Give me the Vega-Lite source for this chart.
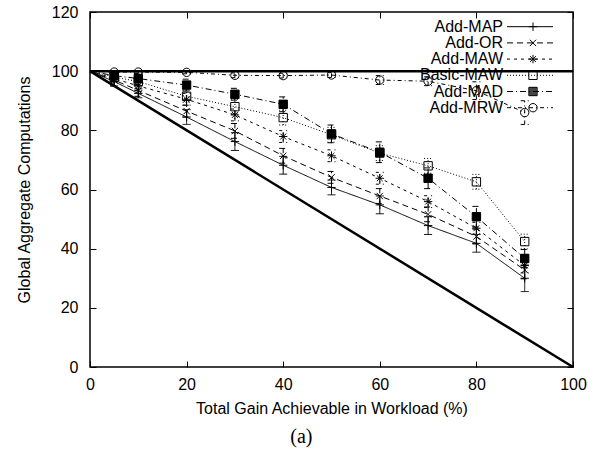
{
  "$schema": "https://vega.github.io/schema/vega-lite/v6.json",
  "autosize": "none",
  "width": 483,
  "height": 355,
  "padding": {"left": 90, "top": 12, "right": 27, "bottom": 86},
  "background": "white",
  "title": {"text": "(a)", "orient": "bottom", "anchor": "middle", "frame": "bounds", "font": "Liberation Serif", "fontSize": 20, "fontWeight": "normal", "color": "black", "offset": 11},
  "config": {
    "font": "Liberation Sans",
    "view": {"stroke": "black", "strokeWidth": 1.5},
    "axis": {"grid": false, "domain": false, "tickColor": "black", "tickWidth": 1, "labelColor": "black", "labelFontSize": 16, "labelFlush": false, "titleColor": "black", "titleFontSize": 16, "titleFontWeight": "normal", "labelFont": "Liberation Sans", "titleFont": "Liberation Sans"},
    "legend": {"labelFont": "Liberation Sans", "labelFontWeight": "normal"}
  },
  "datasets": {
    "series": [
      {"series": "Add-MAP", "x": 0, "y": 100},
      {"series": "Add-MAP", "x": 5, "y": 96.5, "lo": 95, "hi": 98},
      {"series": "Add-MAP", "x": 10, "y": 92.5, "lo": 91, "hi": 94},
      {"series": "Add-MAP", "x": 20, "y": 84.5, "lo": 82, "hi": 87},
      {"series": "Add-MAP", "x": 30, "y": 76.2, "lo": 73.2, "hi": 79.2},
      {"series": "Add-MAP", "x": 40, "y": 68.2, "lo": 65.2, "hi": 71.2},
      {"series": "Add-MAP", "x": 50, "y": 60.7, "lo": 58.2, "hi": 63.2},
      {"series": "Add-MAP", "x": 60, "y": 54.8, "lo": 51.8, "hi": 57.8},
      {"series": "Add-MAP", "x": 70, "y": 47.8, "lo": 44.8, "hi": 50.8},
      {"series": "Add-MAP", "x": 80, "y": 41.8, "lo": 38.8, "hi": 44.8},
      {"series": "Add-MAP", "x": 90, "y": 30, "lo": 25.5, "hi": 34.5},
      {"series": "Add-OR", "x": 0, "y": 100},
      {"series": "Add-OR", "x": 5, "y": 97, "lo": 95, "hi": 99},
      {"series": "Add-OR", "x": 10, "y": 93.5, "lo": 91.5, "hi": 95.5},
      {"series": "Add-OR", "x": 20, "y": 86.5, "lo": 84.5, "hi": 88.5},
      {"series": "Add-OR", "x": 30, "y": 79.8, "lo": 77.3, "hi": 82.3},
      {"series": "Add-OR", "x": 40, "y": 71.4, "lo": 68.9, "hi": 73.9},
      {"series": "Add-OR", "x": 50, "y": 64.1, "lo": 62.1, "hi": 66.1},
      {"series": "Add-OR", "x": 60, "y": 57.8, "lo": 55.3, "hi": 60.3},
      {"series": "Add-OR", "x": 70, "y": 51.6, "lo": 49.1, "hi": 54.1},
      {"series": "Add-OR", "x": 80, "y": 44.1, "lo": 41.6, "hi": 46.6},
      {"series": "Add-OR", "x": 90, "y": 32.8, "lo": 29.8, "hi": 35.8},
      {"series": "Add-MAW", "x": 0, "y": 100},
      {"series": "Add-MAW", "x": 5, "y": 97.5, "lo": 96, "hi": 99},
      {"series": "Add-MAW", "x": 10, "y": 95, "lo": 93.5, "hi": 96.5},
      {"series": "Add-MAW", "x": 20, "y": 90.5, "lo": 88.5, "hi": 92.5},
      {"series": "Add-MAW", "x": 30, "y": 85.2, "lo": 83.2, "hi": 87.2},
      {"series": "Add-MAW", "x": 40, "y": 77.9, "lo": 75.9, "hi": 79.9},
      {"series": "Add-MAW", "x": 50, "y": 71.4, "lo": 69.4, "hi": 73.4},
      {"series": "Add-MAW", "x": 60, "y": 63.8, "lo": 61.8, "hi": 65.8},
      {"series": "Add-MAW", "x": 70, "y": 55.9, "lo": 53.9, "hi": 57.9},
      {"series": "Add-MAW", "x": 80, "y": 46.9, "lo": 44.9, "hi": 48.9},
      {"series": "Add-MAW", "x": 90, "y": 34.3, "lo": 31.8, "hi": 36.8},
      {"series": "Basic-MAW", "x": 0, "y": 100},
      {"series": "Basic-MAW", "x": 5, "y": 98, "lo": 96.5, "hi": 99.5},
      {"series": "Basic-MAW", "x": 10, "y": 96.5, "lo": 95, "hi": 98},
      {"series": "Basic-MAW", "x": 20, "y": 91.5, "lo": 89.5, "hi": 93.5},
      {"series": "Basic-MAW", "x": 30, "y": 88, "lo": 85.5, "hi": 90.5},
      {"series": "Basic-MAW", "x": 40, "y": 84.3, "lo": 81.8, "hi": 86.8},
      {"series": "Basic-MAW", "x": 50, "y": 78.5, "lo": 76, "hi": 81},
      {"series": "Basic-MAW", "x": 60, "y": 72.3, "lo": 69.8, "hi": 74.8},
      {"series": "Basic-MAW", "x": 70, "y": 68, "lo": 65.5, "hi": 70.5},
      {"series": "Basic-MAW", "x": 80, "y": 62.6, "lo": 60.1, "hi": 65.1},
      {"series": "Basic-MAW", "x": 90, "y": 42.4, "lo": 39.9, "hi": 44.9},
      {"series": "Add-MAD", "x": 0, "y": 100},
      {"series": "Add-MAD", "x": 5, "y": 98.5, "lo": 97, "hi": 100},
      {"series": "Add-MAD", "x": 10, "y": 97.5, "lo": 96, "hi": 99},
      {"series": "Add-MAD", "x": 20, "y": 95.3, "lo": 93.3, "hi": 97.3},
      {"series": "Add-MAD", "x": 30, "y": 92.2, "lo": 90.2, "hi": 94.2},
      {"series": "Add-MAD", "x": 40, "y": 88.8, "lo": 86.3, "hi": 91.3},
      {"series": "Add-MAD", "x": 50, "y": 78.8, "lo": 75.8, "hi": 81.8},
      {"series": "Add-MAD", "x": 60, "y": 72.6, "lo": 69.1, "hi": 76.1},
      {"series": "Add-MAD", "x": 70, "y": 63.8, "lo": 60.3, "hi": 67.3},
      {"series": "Add-MAD", "x": 80, "y": 50.8, "lo": 47.3, "hi": 54.3},
      {"series": "Add-MAD", "x": 90, "y": 36.7, "lo": 33.7, "hi": 39.7},
      {"series": "Add-MRW", "x": 0, "y": 100},
      {"series": "Add-MRW", "x": 5, "y": 99.7, "lo": 99.2, "hi": 100.2},
      {"series": "Add-MRW", "x": 10, "y": 99.7, "lo": 99.2, "hi": 100.2},
      {"series": "Add-MRW", "x": 20, "y": 99.6, "lo": 99.1, "hi": 100.1},
      {"series": "Add-MRW", "x": 30, "y": 98.6, "lo": 97.8, "hi": 99.4},
      {"series": "Add-MRW", "x": 40, "y": 98.5, "lo": 97.7, "hi": 99.3},
      {"series": "Add-MRW", "x": 50, "y": 98.7, "lo": 97.9, "hi": 99.5},
      {"series": "Add-MRW", "x": 60, "y": 97, "lo": 95.5, "hi": 98.5},
      {"series": "Add-MRW", "x": 70, "y": 96.6, "lo": 95.1, "hi": 98.1},
      {"series": "Add-MRW", "x": 80, "y": 93.4, "lo": 90.4, "hi": 96.4},
      {"series": "Add-MRW", "x": 90, "y": 86, "lo": 82, "hi": 90}
    ],
    "ref": [
      {"line": "diag", "x": 0, "y": 100},
      {"line": "diag", "x": 100, "y": 0},
      {"line": "flat", "x": 0, "y": 100},
      {"line": "flat", "x": 100, "y": 100}
    ]
  },
  "resolve": {"axis": {"x": "independent", "y": "independent"}},
  "layer": [
    {
      "data": {"name": "ref"},
      "mark": {"type": "line", "color": "black", "strokeWidth": 2.5},
      "encoding": {
        "x": {"field": "x", "type": "quantitative", "scale": {"domain": [0, 100], "nice": false},
              "axis": {"orient": "top", "values": [0, 20, 40, 60, 80, 100], "tickSize": -6, "labels": false, "title": null}},
        "y": {"field": "y", "type": "quantitative", "scale": {"domain": [0, 120], "nice": false},
              "axis": {"orient": "right", "values": [0, 20, 40, 60, 80, 100, 120], "tickSize": -6, "labels": false, "title": null}},
        "detail": {"field": "line", "type": "nominal"}
      }
    },
    {
      "data": {"name": "series"},
      "mark": {"type": "line", "color": "black", "strokeWidth": 1},
      "encoding": {
        "x": {"field": "x", "type": "quantitative",
              "axis": {"orient": "bottom", "values": [0, 20, 40, 60, 80, 100], "tickSize": -6, "labelPadding": 15, "title": "Total Gain Achievable in Workload (%)", "titlePadding": 8}},
        "y": {"field": "y", "type": "quantitative",
              "axis": {"orient": "left", "values": [0, 20, 40, 60, 80, 100, 120], "tickSize": -6, "labelPadding": 18, "title": "Global Aggregate Computations", "titlePadding": 19}},
        "strokeDash": {"field": "series", "type": "nominal",
          "scale": {"domain": ["Add-MAP", "Add-OR", "Add-MAW", "Basic-MAW", "Add-MAD", "Add-MRW"],
                    "range": [[1, 0], [6, 4], [3, 4], [1, 2], [6, 3, 1, 3], [4, 3, 1, 3]]},
          "legend": {"orient": "none", "legendX": 416.5, "legendY": 6.7, "title": null, "symbolType": "stroke", "symbolSize": 2116, "symbolStrokeColor": "black", "symbolStrokeWidth": 1, "labelExpr": "''", "labelOffset": 0, "clipHeight": 16, "rowPadding": 0.2, "padding": 0}}
      }
    },
    {
      "data": {"name": "series"},
      "transform": [{"filter": "datum.x > 0"}],
      "mark": {"type": "rule", "color": "black", "strokeWidth": 1},
      "encoding": {
        "x": {"field": "x", "type": "quantitative", "axis": null},
        "y": {"field": "lo", "type": "quantitative", "axis": null},
        "y2": {"field": "hi"},
        "strokeDash": {"field": "series", "type": "nominal"}
      }
    },
    {
      "data": {"name": "series"},
      "transform": [{"filter": "datum.x > 0"}],
      "mark": {"type": "point", "shape": "stroke", "size": 64, "filled": false, "stroke": "black", "strokeWidth": 1, "opacity": 1},
      "encoding": {
        "x": {"field": "x", "type": "quantitative", "axis": null},
        "y": {"field": "lo", "type": "quantitative", "axis": null},
        "strokeDash": {"field": "series", "type": "nominal"}
      }
    },
    {
      "data": {"name": "series"},
      "transform": [{"filter": "datum.x > 0"}],
      "mark": {"type": "point", "shape": "stroke", "size": 64, "filled": false, "stroke": "black", "strokeWidth": 1, "opacity": 1},
      "encoding": {
        "x": {"field": "x", "type": "quantitative", "axis": null},
        "y": {"field": "hi", "type": "quantitative", "axis": null},
        "strokeDash": {"field": "series", "type": "nominal"}
      }
    },
    {
      "data": {"name": "series"},
      "transform": [{"filter": "datum.x > 0"}],
      "mark": {"type": "point", "size": 70, "stroke": "black", "strokeWidth": 1, "opacity": 1},
      "encoding": {
        "x": {"field": "x", "type": "quantitative", "axis": null},
        "y": {"field": "y", "type": "quantitative", "axis": null},
        "shape": {"field": "series", "type": "nominal",
          "sort": ["Add-MAP", "Add-OR", "Add-MAW", "Basic-MAW", "Add-MAD", "Add-MRW"],
          "scale": {"range": ["M-1,0H1M0,-1V1", "M-0.75,-0.75L0.75,0.75M-0.75,0.75L0.75,-0.75", "M-1,0H1M0,-1V1M-0.7,-0.7L0.7,0.7M-0.7,0.7L0.7,-0.7", "square", "M-1,-1H1V1H-1ZM-0.75,-1V1M-0.5,-1V1M-0.25,-1V1M0,-1V1M0.25,-1V1M0.5,-1V1M0.75,-1V1", "circle"]},
          "legend": {"orient": "none", "legendX": 435, "legendY": 6.7, "title": null, "labelAlign": "right", "labelOffset": -38, "labelFontSize": 16, "labelColor": "black", "labelLimit": 0, "symbolStrokeColor": "black", "symbolStrokeWidth": 1, "symbolSize": 70, "symbolOpacity": 1, "symbolFillColor": "transparent", "rowPadding": 0.2, "padding": 0}},
        "fill": {"condition": {"test": "datum.series === 'Add-MAD'", "value": "black"}, "value": "transparent"}
      }
    }
  ]
}
